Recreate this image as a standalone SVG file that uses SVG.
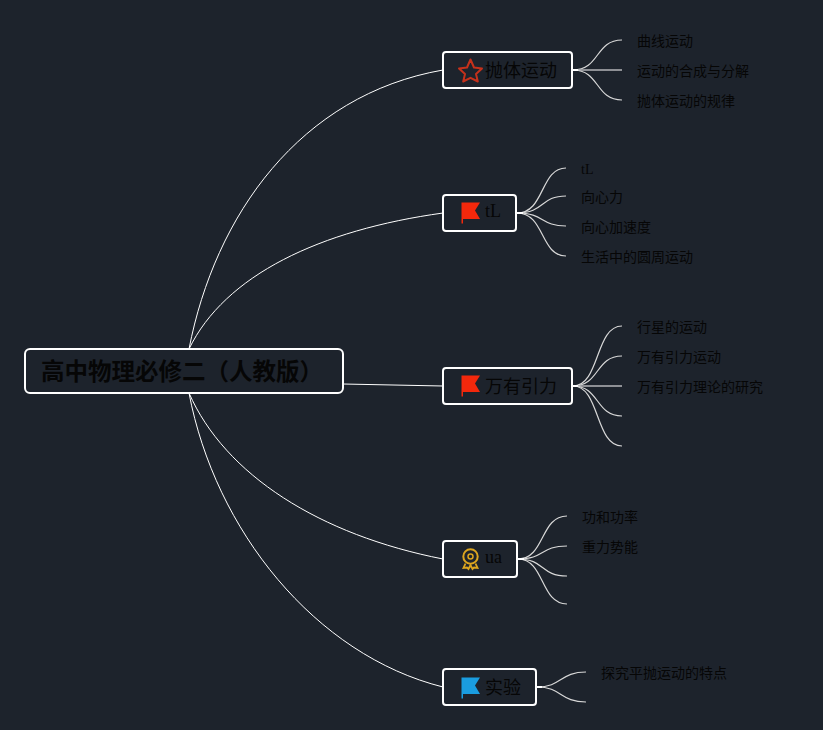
<svg xmlns="http://www.w3.org/2000/svg" width="823" height="730" viewBox="0 0 823 730">
<style>
.box{fill:#1d232c;stroke:#fff;stroke-width:2}
.c{fill:none;stroke:#fff;stroke-width:1}
.s{fill:none;stroke:#d8d8d8;stroke-width:1.200}
.h{fill:none;stroke:#b4b6b9;stroke-width:1.500}
.t{fill:none;stroke:#fff;stroke-width:2}
text{fill:#060606;font-family:"Noto Sans CJK SC","Liberation Serif",serif}
.l{font-size:14px}
.m{font-size:18px}
.r{font-size:23.500px;font-weight:700}
.lat{font-family:"Liberation Serif",serif}
</style>
<defs>
<path id="flag" d="M0.500 0.500H19L14 8.500L19 17H2V21.500H0.500Z"/>
</defs>
<rect width="823" height="730" fill="#1d232c"/>
<g id="connectors">
<path class="c" d="M189 349C215 215 300 95 443 70"/>
<path class="c" d="M189 349C225 275 320 230 443 213"/>
<path class="c" d="M343 384L443 386"/>
<path class="c" d="M189 393C225 475 320 535 443 559"/>
<path class="c" d="M189 393C215 530 315 655 443 687"/>
<g class="s">
<path d="M573 70C600 70 595 40 622 40"/><path class="h" d="M573 70H622"/><path d="M573 70C600 70 595 100 622 100"/>
<path d="M517 213C545 213 540 168 566 168"/><path d="M517 213C545 213 540 196 566 196"/><path d="M517 213C545 213 540 226 566 226"/><path d="M517 213C545 213 540 256 566 256"/>
<path d="M573 386C600 386 595 326 622 326"/><path d="M573 386C600 386 595 356 622 356"/><path class="h" d="M573 386H622"/><path d="M573 386C600 386 595 416 622 416"/><path d="M573 386C600 386 595 446 622 446"/>
<path d="M518 559C545 559 540 516 567 516"/><path d="M518 559C545 559 540 546 567 546"/><path d="M518 559C545 559 540 576 567 576"/><path d="M518 559C545 559 540 604 567 604"/>
<path d="M537 687C562 687 560 672 586 672"/><path d="M537 687C562 687 560 702 586 702"/>
</g>
<g class="t"><path d="M572 70H578"/><path d="M516 213H523"/><path d="M572 386H578"/><path d="M517 559H524"/><path d="M536 687H542"/></g>
</g>
<g id="root"><rect class="box" x="25" y="349" width="318" height="44" rx="5"/><text class="r" x="41" y="380">高中物理必修二（人教版）</text></g>
<g id="n1"><rect class="box" x="443" y="52" width="129" height="36" rx="3"/>
<path d="M470.500 59.500L474 67.500L482 68.500L476 74L477.800 81.500L470.500 77.800L463.200 81.500L465 74L459 68.500L467 67.500Z" fill="none" stroke="#c5311b" stroke-width="2" stroke-linejoin="round"/>
<text class="m" x="485" y="77">抛体运动</text></g>
<g id="n2"><rect class="box" x="443" y="195" width="73" height="36" rx="3"/><use href="#flag" x="461" y="202" fill="#f3280c"/><text class="lat" x="485" y="217" font-size="18">tL</text></g>
<g id="n3"><rect class="box" x="443" y="368" width="129" height="36" rx="3"/><use href="#flag" x="461" y="375" fill="#f3280c"/><text class="m" x="485" y="393">万有引力</text></g>
<g id="n4"><rect class="box" x="443" y="541" width="74" height="36" rx="3"/>
<circle cx="470.500" cy="556.500" r="7.200" fill="none" stroke="#dca51f" stroke-width="2"/><circle cx="470.500" cy="556.500" r="2.500" fill="none" stroke="#dca51f" stroke-width="1.500"/>
<path d="M465.500 563.500L463.500 568L467 567.500L468.500 569L470.500 565L472.500 569L474 567.500L477.500 568L475.500 563.500" fill="none" stroke="#dca51f" stroke-width="1.800"/>
<text class="lat" x="485" y="563" font-size="18">ua</text></g>
<g id="n5"><rect class="box" x="443" y="669" width="93" height="36" rx="3"/><use href="#flag" x="461" y="677" fill="#1a9de0"/><text class="m" x="485" y="694">实验</text></g>
<g id="labels" class="l">
<text x="637" y="46">曲线运动</text><text x="637" y="76">运动的合成与分解</text><text x="637" y="106">抛体运动的规律</text>
<text x="581" y="174" class="lat">tL</text><text x="581" y="202">向心力</text><text x="581" y="232">向心加速度</text><text x="581" y="262">生活中的圆周运动</text>
<text x="637" y="332">行星的运动</text><text x="637" y="362">万有引力运动</text><text x="637" y="392">万有引力理论的研究</text>
<text x="582" y="522">功和功率</text><text x="582" y="552">重力势能</text>
<text x="601" y="678">探究平抛运动的特点</text>
</g>
</svg>
